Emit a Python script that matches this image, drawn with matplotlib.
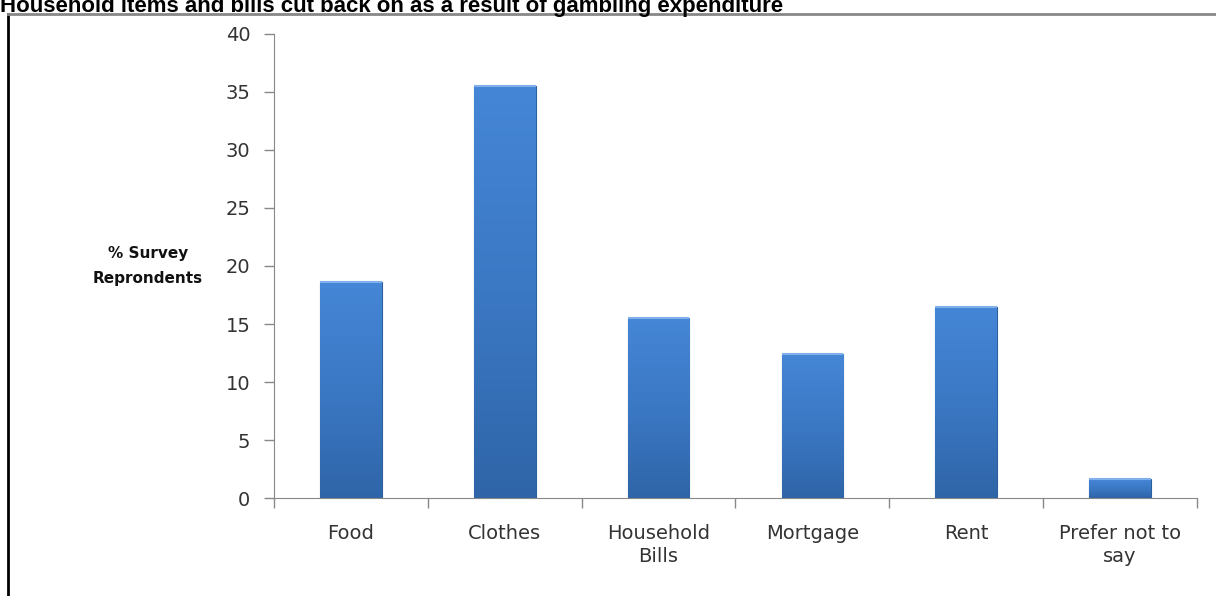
import numpy as np
import matplotlib.pyplot as plt
from matplotlib.lines import Line2D
from matplotlib.colors import LinearSegmentedColormap

categories = ["Food", "Clothes", "Household\nBills", "Mortgage", "Rent", "Prefer not to\nsay"]
values = [18.6, 35.5, 15.5, 12.4, 16.5, 1.6]
y_ticks = [0, 5, 10, 15, 20, 25, 30, 35, 40]

title = "Household items and bills cut back on as a result of gambling expenditure"
ylabel = "% Survey\nReprondents"

plt.rcParams['font.family'] = ['DejaVu Sans']

fig = plt.figure(figsize=(12.16, 5.96), dpi=100)
ax = fig.add_axes([0.2253, 0.1644, 0.7591, 0.7786])

x = np.arange(len(categories))
bar_w = 0.4
bars = ax.bar(x, values, width=bar_w, color="#3f7dcc", edgecolor="#2c5f9e",
              linewidth=0.8, zorder=2)

# vertical gradient inside each bar
cmap = LinearSegmentedColormap.from_list("blu", ["#2f65a8", "#3b78c4", "#4586d6"])
grad = np.linspace(0, 1, 256).reshape(-1, 1)
for b, v in zip(bars, values):
    im = ax.imshow(grad, cmap=cmap, aspect='auto', origin='lower',
                   extent=(b.get_x(), b.get_x() + bar_w, 0, v), zorder=2.5)
    im.set_clip_path(b)
    # light bevel on top edge
    ax.plot([b.get_x(), b.get_x() + bar_w], [v, v], color="#7fb0ec",
            lw=1.5, zorder=3, solid_capstyle='butt')

ax.set_xlim(-0.5, len(categories) - 0.5)
ax.set_ylim(0, 40)
ax.set_yticks(y_ticks)
ax.set_xticks(x)
ax.set_xticklabels(categories, fontsize=14, color="#333333", linespacing=1.25)
ax.set_xticks(np.arange(-0.5, len(categories)), minor=True)
ax.tick_params(axis='x', which='major', length=0, pad=19)
ax.tick_params(axis='x', which='minor', length=7, color="#888888", width=1)
ax.tick_params(axis='y', length=7, color="#888888", width=1, labelsize=14,
               labelcolor="#333333", pad=10)

for s in ["top", "right"]:
    ax.spines[s].set_visible(False)
for s in ["left", "bottom"]:
    ax.spines[s].set_color("#888888")
ax.spines["left"].set_bounds(0, 40)

fig.text(148 / 1216, 1 - 266 / 596, ylabel, fontsize=11, fontweight='bold',
         ha='center', va='center', linespacing=1.8, color="#111111")

fig.text(0.0, 1 - 12 / 596, title, fontsize=16, fontweight='bold',
         family='Liberation Sans', ha='left', va='baseline')

# frame lines
fig.add_artist(Line2D([8 / 1216, 8 / 1216], [0, 1 - 14 / 596], color="black",
                      lw=2, transform=fig.transFigure))
fig.add_artist(Line2D([8 / 1216, 1], [1 - 14 / 596, 1 - 14 / 596], color="#888888",
                      lw=2, transform=fig.transFigure))

fig.savefig("out.png", dpi=100)
